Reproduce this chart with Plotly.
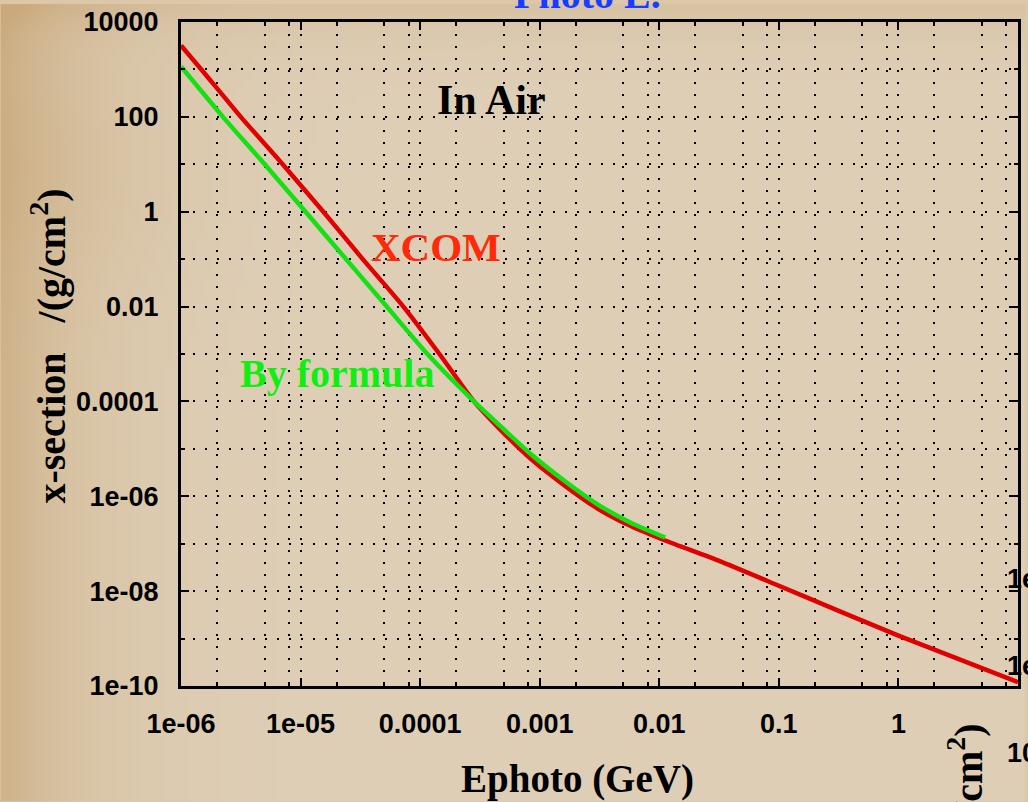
import base64, struct, zlib
import numpy as np
import plotly.graph_objects as go

# ---------------- data ----------------
E_xcom = [1.0e-6, 1.48e-6, 3.16e-6, 7.08e-6, 1.55e-5, 3.31e-5, 7.24e-5, 1.45e-4,
          2.82e-4, 4.57e-4, 8.51e-4, 1.66e-3, 3.09e-3, 5.89e-3, 1.12e-2, 3.2e-2,
          0.1, 0.32, 1.0, 3.2, 10.0]
sig_xcom = [3.2e3, 1.0e3, 1.0e2, 1.0e1, 1.0, 0.1, 1.0e-2, 1.0e-3,
            1.0e-4, 2.7e-5, 6.0e-6, 1.6e-6, 5.4e-7, 2.3e-7, 1.17e-7, 4.3e-8,
            1.3e-8, 3.8e-9, 1.15e-9, 3.7e-10, 1.2e-10]

E_formula = [1.0e-6, 2.24e-6, 5.01e-6, 1.10e-5, 2.40e-5, 5.25e-5, 1.15e-4,
             2.82e-4, 4.57e-4, 8.51e-4, 1.66e-3, 3.09e-3, 5.89e-3, 1.12e-2]
sig_formula = [1.15e3, 1.0e2, 1.0e1, 1.0, 0.1, 1.0e-2, 1.0e-3,
               1.0e-4, 3.2e-5, 7.6e-6, 2.0e-6, 6.6e-7, 2.7e-7, 1.35e-7]

x_tickvals = [1e-6, 1e-5, 1e-4, 1e-3, 1e-2, 1e-1, 1, 10]
x_ticktext = ["1e-06", "1e-05", "0.0001", "0.001", "0.01", "0.1", "1", "10"]
x_minorvals = [m * 10.0 ** k for k in range(-6, 1) for m in (2, 5, 8)]

y_tickvals = [1e4, 1e2, 1, 1e-2, 1e-4, 1e-6, 1e-8, 1e-10]
y_ticktext = ["10000", "100", "1", "0.01", "0.0001", "1e-06", "1e-08", "1e-10"]
y_minorvals = [1e3, 1e1, 1e-1, 1e-3, 1e-5, 1e-7, 1e-9]

# ---------------- parchment background (smooth gradient) ----------------
W, H = 128, 100
xs = np.linspace(0, 1, W)[None, :]
ys = np.linspace(0, 1, H)[:, None]
base = np.array([223, 207, 183], dtype=float)
warm = np.array([202, 170, 124], dtype=float)
t = (0.75 * np.exp(-xs / 0.08) + 0.35 * np.exp(-ys / 0.035)
     + 0.15 * np.exp(-((xs - 0.05) ** 2 + (ys - 0.2) ** 2) / 0.02))
t = np.clip(t, 0, 1)[..., None]
img = (base * (1 - t) + warm * t).astype(np.uint8)


def png_uri(arr):
    h, w, _ = arr.shape
    raw = b"".join(b"\x00" + arr[r].tobytes() for r in range(h))

    def chunk(tag, data):
        c = struct.pack(">I", len(data)) + tag + data
        return c + struct.pack(">I", zlib.crc32(tag + data) & 0xFFFFFFFF)

    png = (b"\x89PNG\r\n\x1a\n"
           + chunk(b"IHDR", struct.pack(">IIBBBBB", w, h, 8, 2, 0, 0, 0))
           + chunk(b"IDAT", zlib.compress(raw))
           + chunk(b"IEND", b""))
    return "data:image/png;base64," + base64.b64encode(png).decode()


# ---------------- figure ----------------
FIG_W, FIG_H = 1028, 802
L, R, T, B = 181, 7, 18, 116
PW, PH = FIG_W - L - R, FIG_H - T - B


def px(x):
    return (x - L) / PW


def py(y):
    return (FIG_H - B - y) / PH


fig = go.Figure()
fig.add_trace(go.Scatter(x=E_xcom, y=sig_xcom, mode="lines", name="XCOM",
                         line=dict(color="#e00000", width=4.5, shape="spline",
                                   smoothing=0.6)))
fig.add_trace(go.Scatter(x=E_formula, y=sig_formula, mode="lines", name="By formula",
                         line=dict(color="#14e014", width=4.5, shape="spline",
                                   smoothing=0.6)))

tick_font = dict(family="Liberation Sans", size=27, color="black", weight="bold")
grid = dict(showgrid=True, gridcolor="black", gridwidth=1.5, griddash="2px,10px")

fig.update_xaxes(type="log", range=[-6, 1], tickmode="array",
                 tickvals=x_tickvals, ticktext=x_ticktext,
                 ticks="inside", ticklen=8, tickwidth=2, tickcolor="black",
                 showline=True, linewidth=3, linecolor="black", mirror="allticks",
                 zeroline=False, tickfont=tick_font, ticklabelstandoff=12,
                 minor=dict(tickvals=x_minorvals, ticks="inside", ticklen=4,
                            tickwidth=1.5, tickcolor="black", **grid),
                 **grid)
fig.update_yaxes(type="log", range=[-10, 4], tickmode="array",
                 tickvals=y_tickvals, ticktext=y_ticktext,
                 ticks="inside", ticklen=8, tickwidth=2, tickcolor="black",
                 showline=True, linewidth=3, linecolor="black", mirror="allticks",
                 zeroline=False, tickfont=tick_font, ticklabelstandoff=14,
                 minor=dict(tickvals=y_minorvals, ticks="inside", ticklen=4,
                            tickwidth=1.5, tickcolor="black", **grid),
                 **grid)

serif = "Liberation Serif"


def label(text, x, y, size=40, color="black", angle=0, xanchor="center",
          yanchor="middle", family=serif, weight="bold"):
    fig.add_annotation(text=text, x=x, y=y, xref="paper", yref="paper",
                       showarrow=False, textangle=angle, xanchor=xanchor,
                       yanchor=yanchor,
                       font=dict(family=family, size=size, color=color, weight=weight))


label("In Air", px(493), py(96), size=42)
label("XCOM", px(437), py(244), size=41, color="#ff2a0a")
label("By formula", px(338), py(372), size=40, color="#11ee11")
label("Ephoto (GeV)", px(579), py(780), size=39)
label("x-section   /(g/cm<sup>2</sup>)", px(48), py(344), size=40, angle=-90)
label("Photo E.", px(589), py(-10), size=40, color="#1a3cff")

# partial text of the neighbouring slide at the right edge
label("1e-07", px(1008), py(578), size=27, xanchor="left",
      family="Liberation Sans")
label("1e-09", px(1008), py(666), size=27, xanchor="left",
      family="Liberation Sans")
label("10", px(1008), py(753), size=27, xanchor="left", family="Liberation Sans")
label("x-section   /(g/cm<sup>2</sup>)", px(968), py(722), size=40, angle=-90,
      yanchor="top")

fig.add_layout_image(dict(source=png_uri(img), xref="paper", yref="paper",
                          x=-L / PW, y=1 + T / PH, sizex=FIG_W / PW, sizey=FIG_H / PH,
                          xanchor="left", yanchor="top", sizing="stretch",
                          layer="below"))

fig.update_layout(width=FIG_W, height=FIG_H, showlegend=False,
                  margin=dict(l=L, r=R, t=T, b=B, pad=0),
                  paper_bgcolor="#dcc8a8", plot_bgcolor="rgba(0,0,0,0)")

fig.write_html("out.html")
